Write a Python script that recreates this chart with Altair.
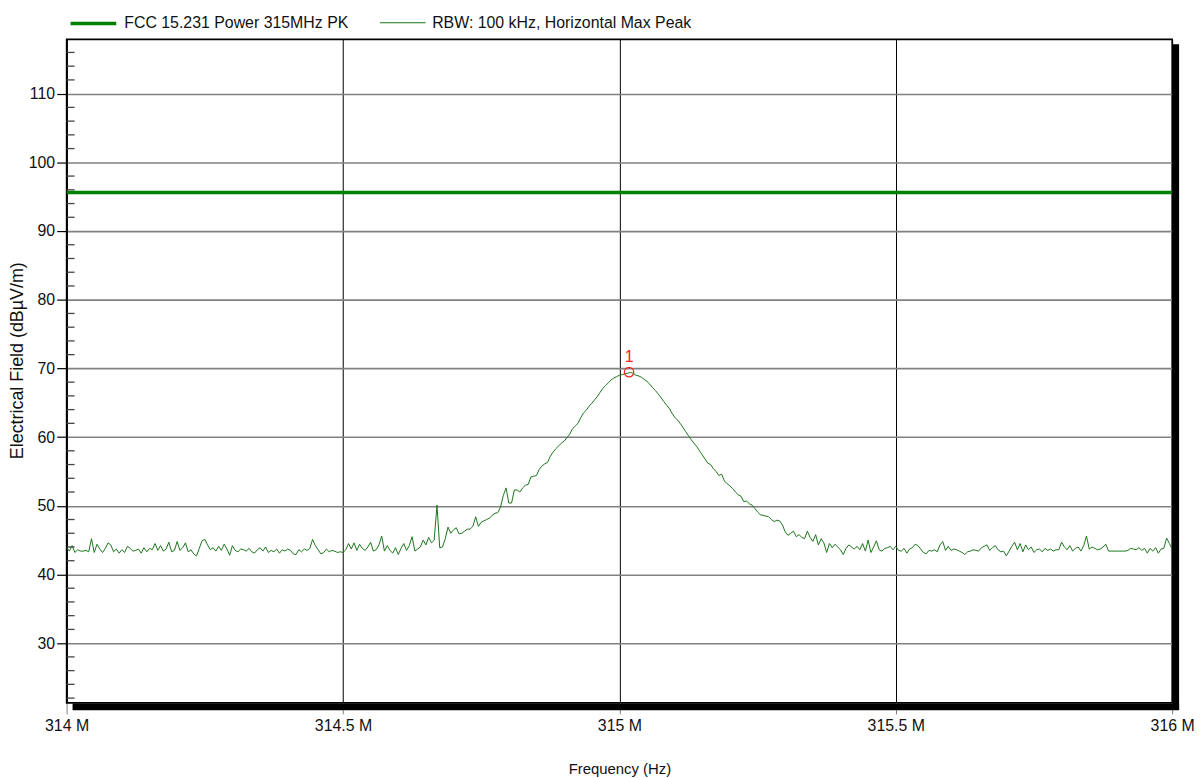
import altair as alt
import pandas as pd

FONT = "Liberation Sans"

# ---- data -------------------------------------------------------------------
freq_start = 314.0          # MHz
freq_step = 0.005           # MHz between trace samples
trace_rows = [
    [43.9, 43.4, 44.2, 43.2, 43.6, 43.4, 43.4, 43.5, 43.3, 45.2, 43.2, 44.4, 43.7, 43.2, 43.8, 44.6, 44.3, 43.3, 43.7, 43.1],
    [43.6, 43.2, 44.1, 43.8, 43.4, 43.5, 43.7, 43.1, 43.9, 43.3, 43.8, 43.6, 44.5, 43.5, 44.2, 43.4, 43.7, 44.7, 43.3, 43.5],
    [44.8, 43.5, 43.9, 44.6, 43.3, 43.6, 43.0, 42.7, 43.8, 44.9, 45.1, 44.3, 43.6, 43.9, 43.4, 44.1, 43.5, 44.4, 43.7, 42.8],
    [44.2, 43.5, 43.3, 43.7, 43.6, 43.4, 43.8, 43.3, 43.1, 43.6, 43.9, 43.4, 44.0, 43.2, 43.5, 43.3, 43.7, 43.1, 43.6, 43.4],
    [43.7, 43.5, 43.0, 42.9, 43.6, 43.3, 43.7, 43.5, 43.8, 45.1, 44.2, 43.6, 43.0, 43.2, 43.7, 43.3, 43.5, 43.4, 43.2, 43.3],
    [43.2, 43.6, 44.5, 43.7, 44.6, 43.5, 44.4, 43.8, 43.5, 44.0, 44.7, 43.4, 43.6, 44.3, 45.6, 43.4, 44.2, 43.5, 43.1, 43.9],
    [42.9, 43.8, 44.5, 43.5, 44.2, 45.5, 43.4, 43.7, 44.0, 45.0, 44.3, 45.4, 44.6, 45.0, 50.1, 43.9, 44.0, 45.2, 46.9, 46.0],
    [46.5, 46.8, 45.9, 46.0, 46.3, 46.6, 46.6, 47.0, 48.4, 47.0, 47.6, 47.8, 48.0, 48.2, 48.6, 48.9, 49.0, 49.8, 51.5, 52.6],
    [50.4, 50.4, 52.3, 52.3, 52.0, 52.6, 53.0, 53.1, 54.2, 54.3, 54.4, 55.3, 55.8, 56.1, 56.3, 57.2, 57.8, 58.3, 58.7, 59.1],
    [59.4, 59.9, 60.4, 61.2, 61.6, 62.0, 62.8, 63.5, 63.9, 64.5, 64.9, 65.4, 65.9, 66.5, 67.1, 67.5, 67.9, 68.3, 68.6, 68.8],
    [69.0, 69.1, 69.2, 69.3, 69.4, 69.3, 69.0, 68.9, 68.7, 68.4, 68.1, 67.7, 67.2, 66.8, 66.3, 65.8, 65.2, 64.7, 64.2, 63.5],
    [62.9, 62.5, 62.0, 61.4, 60.8, 60.2, 59.6, 59.1, 58.6, 58.0, 57.4, 56.8, 56.2, 56.0, 55.4, 55.0, 54.4, 54.6, 53.6, 53.2],
    [52.9, 52.5, 52.0, 51.6, 51.4, 50.6, 50.7, 50.3, 50.1, 49.6, 49.1, 48.7, 48.6, 48.5, 48.4, 48.0, 47.7, 47.9, 47.8, 47.2],
    [46.2, 45.7, 46.0, 46.3, 45.5, 45.8, 45.4, 45.2, 46.3, 45.4, 44.8, 45.8, 44.3, 45.2, 44.6, 43.2, 44.5, 43.9, 44.4, 44.0],
    [43.6, 42.9, 43.8, 44.3, 44.0, 43.7, 44.1, 43.6, 44.5, 43.4, 45.0, 43.2, 44.0, 44.9, 43.6, 43.4, 43.8, 43.9, 44.1, 43.6],
    [44.1, 43.5, 43.4, 43.8, 43.1, 43.7, 43.9, 44.4, 44.2, 43.7, 43.2, 43.0, 43.5, 43.4, 43.6, 43.3, 44.3, 44.8, 43.5, 44.1],
    [43.5, 43.7, 43.6, 43.4, 43.2, 42.9, 43.3, 43.4, 43.6, 43.5, 43.4, 43.9, 44.1, 44.3, 43.5, 43.9, 44.2, 43.6, 43.3, 43.4],
    [42.7, 43.4, 44.1, 44.7, 43.6, 44.5, 43.3, 44.3, 43.6, 44.0, 43.2, 43.6, 43.7, 43.3, 43.8, 43.5, 43.7, 43.4, 43.6, 43.6],
    [44.7, 44.0, 43.6, 44.2, 43.4, 43.8, 44.0, 43.4, 44.2, 45.6, 43.7, 44.0, 43.8, 43.6, 43.7, 44.0, 44.4, 43.4, 43.4, 43.4],
    [43.4, 43.4, 43.4, 43.4, 43.5, 43.8, 43.7, 43.6, 43.9, 43.5, 43.8, 43.1, 43.8, 43.4, 43.9, 43.1, 43.7, 43.8, 45.3, 44.5],
    [43.7],
]
limit_freqs = [314.0, 316.0]
limit_levels = [95.6, 95.6]
series_names = ["FCC 15.231 Power 315MHz PK", "RBW: 100 kHz, Horizontal Max Peak"]
series_colors = ["#008000", "#1b751b"]
series_widths = [3.5, 1.0]
marker_freq = [315.0175]
marker_level = [69.45]
marker_label = ["1"]
x_ticks = [314.0, 314.5, 315.0, 315.5, 316.0]
y_major = [30, 40, 50, 60, 70, 80, 90, 100, 110]
y_minor = [22, 24, 26, 28, 32, 34, 36, 38, 42, 44, 46, 48, 52, 54, 56, 58,
           62, 64, 66, 68, 72, 74, 76, 78, 82, 84, 86, 88, 92, 94, 96, 98,
           102, 104, 106, 108, 112, 114, 116]
x_domain = [314.0, 316.0]
y_domain = [21.3, 117.9]

# ---- tables -----------------------------------------------------------------
trace = [v for row in trace_rows for v in row]
trace_freqs = [round(freq_start + i * freq_step, 4) for i in range(len(trace))]

lines_df = pd.concat([
    pd.DataFrame({"freq": limit_freqs, "level": limit_levels, "series": series_names[0]}),
    pd.DataFrame({"freq": trace_freqs, "level": trace, "series": series_names[1]}),
], ignore_index=True)
marker_df = pd.DataFrame({"freq": marker_freq, "level": marker_level, "label": marker_label})
minor_df = pd.DataFrame({"level": y_minor})

W, H = 1113, 668

xscale = alt.Scale(domain=x_domain, nice=False, zero=False)
yscale = alt.Scale(domain=y_domain, nice=False, zero=False)

legend = alt.Legend(
    title=None, orient="none", legendX=2, legendY=-41, direction="horizontal",
    symbolType="stroke", symbolSize=2116, labelFont=FONT, labelFontSize=16,
    labelColor="#111111", labelOffset=6, columnPadding=29, labelLimit=500,
)

x_axis = alt.Axis(
    values=x_ticks, labelExpr="datum.value + ' M'", title="Frequency (Hz)",
    grid=True, gridColor="#000000", gridWidth=1, domain=False,
    ticks=True, tickColor="#808080", tickSize=11, tickWidth=1,
    labelFont=FONT, labelFontSize=16, labelColor="#111111", labelPadding=4,
    labelFlush=False, titleFont=FONT, titleFontSize=15, titleFontWeight="normal",
    titleColor="#111111", titlePadding=28,
)
y_axis = alt.Axis(
    values=y_major, title="Electrical Field (dBµV/m)",
    grid=True, gridColor="#808080", gridWidth=1.6,
    domain=True, domainColor="#000000", domainWidth=1.5,
    ticks=True, tickColor="#000000", tickSize=10, tickWidth=1.2,
    labelFont=FONT, labelFontSize=16, labelColor="#111111", labelPadding=2,
    titleFont=FONT, titleFontSize=18, titleFontWeight="normal",
    titleColor="#111111", titlePadding=2, titleY=323,
)

lines = alt.Chart(lines_df).mark_line(clip=True).encode(
    x=alt.X("freq:Q", scale=xscale, axis=x_axis),
    y=alt.Y("level:Q", scale=yscale, axis=y_axis),
    color=alt.Color("series:N", scale=alt.Scale(domain=series_names, range=series_colors), legend=legend),
    strokeWidth=alt.StrokeWidth("series:N", scale=alt.Scale(domain=series_names, range=series_widths), legend=legend),
)

marker = alt.Chart(marker_df).mark_point(
    shape="circle", filled=False, color="#ff2020", size=90, strokeWidth=1.2, opacity=1
).encode(x=alt.X("freq:Q", scale=xscale), y=alt.Y("level:Q", scale=yscale))

marker_text = alt.Chart(marker_df).mark_text(
    color="#ff2020", font=FONT, fontSize=16, dy=-15, baseline="middle", align="center"
).encode(x=alt.X("freq:Q", scale=xscale), y=alt.Y("level:Q", scale=yscale), text="label:N")

minor_ticks = alt.Chart(minor_df).mark_rule(color="#444444", strokeWidth=1.3).encode(
    y=alt.Y("level:Q", scale=yscale), x=alt.value(0), x2=alt.value(8)
)

bottom_bar = alt.Chart(pd.DataFrame({"k": [0]})).mark_rule(color="#000000", strokeWidth=7).encode(
    x=alt.value(6), x2=alt.value(W + 7), y=alt.value(H + 4)
)
right_bar = alt.Chart(pd.DataFrame({"k": [0]})).mark_rule(color="#000000", strokeWidth=7).encode(
    x=alt.value(W + 3.5), y=alt.value(5), y2=alt.value(H + 7)
)

chart = alt.layer(lines, marker, marker_text, minor_ticks, bottom_bar, right_bar).properties(
    width=W, height=H,
    autosize=alt.AutoSizeParams(type="none"),
    padding={"left": 59, "top": 29, "right": 23, "bottom": 72},
    background="#ffffff",
).configure_view(stroke="#000000", strokeWidth=1.6)

chart.save("out.html", embed_options={"renderer": "svg", "actions": False})
